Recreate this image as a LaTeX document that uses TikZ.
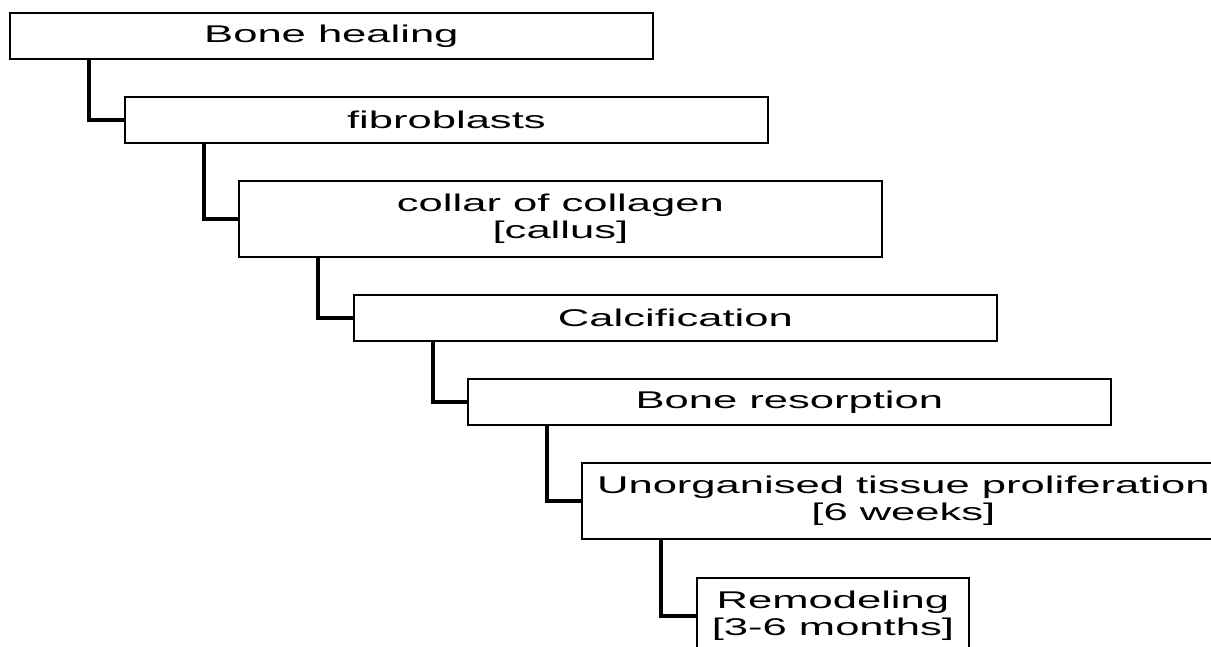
\documentclass[tikz,border=0pt]{standalone}
\usepackage{fontspec}
\setmainfont[FakeStretch=1.8]{Liberation Sans}
\usetikzlibrary{positioning}
\begin{document}
\begin{tikzpicture}[
        x=0.5pt, y=-0.5pt,
        stage/.style={rectangle, draw=black, fill=white, line width=0.9pt, minimum width=321.5pt, minimum height=23pt, inner sep=0pt, anchor=north west, align=center, font=\fontsize{12.1pt}{13.2pt}\selectfont},
        twoline/.style={minimum height=38pt},
        link/.style={line width=1.8pt, black}
    ]
        \clip (0,0) rectangle (1211,647);
        \fill[white] (0,0) rectangle (1211,647);

        % Stages of healing
        \node[stage] (HEAL) at (9,12) {Bone healing};
        \node[stage] (FIB) at (124,96) {fibroblasts};
        \node[stage, twoline] (COLLAR) at (238,180) {collar of collagen\\{[callus]}};
        \node[stage] (CALC) at (353,294) {Calcification};
        \node[stage] (RESORB) at (467,378) {Bone resorption};
        \node[stage, twoline] (PROLIF) at (581,462) {Unorganised tissue proliferation\\{[6 weeks]}};
        \node[stage, twoline, minimum width=136pt] (REMOD) at (696,577) {Remodeling\\{[3-6 months]}};

        % Elbow connections
        \draw[link] ([xshift=40pt]HEAL.south west) |- (FIB.west);
        \draw[link] ([xshift=40pt]FIB.south west) |- (COLLAR.west);
        \draw[link] ([xshift=40pt]COLLAR.south west) |- (CALC.west);
        \draw[link] ([xshift=40pt]CALC.south west) |- (RESORB.west);
        \draw[link] ([xshift=40pt]RESORB.south west) |- (PROLIF.west);
        \draw[link] ([xshift=40pt]PROLIF.south west) |- (REMOD.west);
    \end{tikzpicture}
\end{document}
